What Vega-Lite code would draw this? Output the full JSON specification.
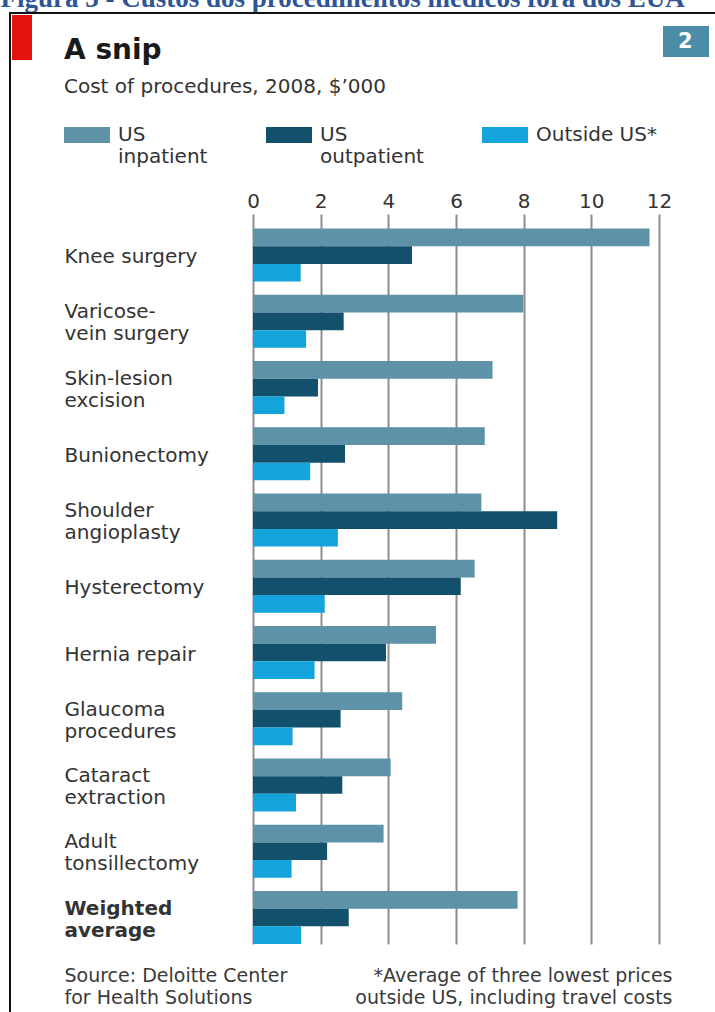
{
  "$schema": "https://vega.github.io/schema/vega-lite/v6.json",
  "autosize": {"type": "none"},
  "width": 406,
  "height": 730,
  "padding": {"left": 253, "top": 214, "right": 56, "bottom": 68},
  "background": "white",
  "title": {
    "text": "A snip",
    "subtitle": "Cost of procedures, 2008, $’000",
    "anchor": "start",
    "frame": "group",
    "dx": -189,
    "dy": 113,
    "offset": 0,
    "font": "DejaVu Sans",
    "fontSize": 28,
    "fontWeight": "bold",
    "color": "#1a1a1a",
    "subtitleFont": "DejaVu Sans",
    "subtitleFontSize": 20,
    "subtitleColor": "#333333",
    "subtitlePadding": 12
  },
  "data": {
    "values": [
      {"category": "Knee surgery", "series": "US inpatient", "value": 11.72},
      {"category": "Knee surgery", "series": "US outpatient", "value": 4.70},
      {"category": "Knee surgery", "series": "Outside US*", "value": 1.41},
      {"category": "Varicose-vein surgery", "series": "US inpatient", "value": 7.99},
      {"category": "Varicose-vein surgery", "series": "US outpatient", "value": 2.68},
      {"category": "Varicose-vein surgery", "series": "Outside US*", "value": 1.57},
      {"category": "Skin-lesion excision", "series": "US inpatient", "value": 7.08},
      {"category": "Skin-lesion excision", "series": "US outpatient", "value": 1.92},
      {"category": "Skin-lesion excision", "series": "Outside US*", "value": 0.93},
      {"category": "Bunionectomy", "series": "US inpatient", "value": 6.85},
      {"category": "Bunionectomy", "series": "US outpatient", "value": 2.72},
      {"category": "Bunionectomy", "series": "Outside US*", "value": 1.69},
      {"category": "Shoulder angioplasty", "series": "US inpatient", "value": 6.75},
      {"category": "Shoulder angioplasty", "series": "US outpatient", "value": 8.99},
      {"category": "Shoulder angioplasty", "series": "Outside US*", "value": 2.51},
      {"category": "Hysterectomy", "series": "US inpatient", "value": 6.55},
      {"category": "Hysterectomy", "series": "US outpatient", "value": 6.14},
      {"category": "Hysterectomy", "series": "Outside US*", "value": 2.12},
      {"category": "Hernia repair", "series": "US inpatient", "value": 5.41},
      {"category": "Hernia repair", "series": "US outpatient", "value": 3.93},
      {"category": "Hernia repair", "series": "Outside US*", "value": 1.82},
      {"category": "Glaucoma procedures", "series": "US inpatient", "value": 4.41},
      {"category": "Glaucoma procedures", "series": "US outpatient", "value": 2.59},
      {"category": "Glaucoma procedures", "series": "Outside US*", "value": 1.17},
      {"category": "Cataract extraction", "series": "US inpatient", "value": 4.07},
      {"category": "Cataract extraction", "series": "US outpatient", "value": 2.64},
      {"category": "Cataract extraction", "series": "Outside US*", "value": 1.27},
      {"category": "Adult tonsillectomy", "series": "US inpatient", "value": 3.86},
      {"category": "Adult tonsillectomy", "series": "US outpatient", "value": 2.19},
      {"category": "Adult tonsillectomy", "series": "Outside US*", "value": 1.14},
      {"category": "Weighted average", "series": "US inpatient", "value": 7.82},
      {"category": "Weighted average", "series": "US outpatient", "value": 2.83},
      {"category": "Weighted average", "series": "Outside US*", "value": 1.42}
    ]
  },
  "layer": [
    {
      "transform": [{"filter": "datum.series != 'Outside US*'"}],
      "mark": {"type": "bar"},
      "encoding": {
        "y": {
          "field": "category",
          "type": "nominal",
          "scale": {
            "domain": ["Knee surgery", "Varicose-vein surgery", "Skin-lesion excision", "Bunionectomy", "Shoulder angioplasty", "Hysterectomy", "Hernia repair", "Glaucoma procedures", "Cataract extraction", "Adult tonsillectomy", "Weighted average"],
            "paddingInner": 0.2,
            "paddingOuter": 0.11,
            "align": 1
          },
          "axis": {
            "orient": "left",
            "title": null,
            "domain": false,
            "ticks": false,
            "tickSize": 0,
            "grid": false,
            "labelAlign": "left",
            "labelBaseline": "middle",
            "labelPadding": 189,
            "labelLimit": 400,
            "labelOverlap": false,
            "labelBound": false,
            "labelFont": "DejaVu Sans",
            "labelFontSize": 20,
            "labelLineHeight": 22,
            "labelColor": "#333333",
            "labelOffset": {"condition": {"test": "datum.value == 'Knee surgery' || datum.value == 'Bunionectomy' || datum.value == 'Hysterectomy' || datum.value == 'Hernia repair'", "value": 2}, "value": -9},
            "labelFontWeight": {"condition": {"test": "datum.value == 'Weighted average'", "value": "bold"}, "value": "normal"},
            "labelExpr": "datum.value == 'Varicose-vein surgery' ? ['Varicose-', 'vein surgery'] : datum.value == 'Skin-lesion excision' ? ['Skin-lesion', 'excision'] : datum.value == 'Shoulder angioplasty' ? ['Shoulder', 'angioplasty'] : datum.value == 'Glaucoma procedures' ? ['Glaucoma', 'procedures'] : datum.value == 'Cataract extraction' ? ['Cataract', 'extraction'] : datum.value == 'Adult tonsillectomy' ? ['Adult', 'tonsillectomy'] : datum.value == 'Weighted average' ? ['Weighted', 'average'] : datum.label"
          }
        },
        "yOffset": {
          "field": "series",
          "type": "nominal",
          "scale": {"domain": ["US inpatient", "US outpatient", "Outside US*"], "paddingInner": 0, "paddingOuter": 0}
        },
        "x": {
          "field": "value",
          "type": "quantitative",
          "scale": {"domain": [0, 12], "nice": false, "zero": true},
          "axis": {
            "orient": "top",
            "values": [0, 2, 4, 6, 8, 10, 12],
            "domain": false,
            "ticks": false,
            "tickSize": 0,
            "grid": true,
            "gridColor": "#8d8d8d",
            "gridWidth": 2,
            "labelFont": "DejaVu Sans",
            "labelFontSize": 20,
            "labelColor": "#333333",
            "labelPadding": 3,
            "labelFlush": false,
            "labelOverlap": false,
            "title": "Figura 3 - Custos dos procedimentos médicos fora dos EUA",
            "titleX": -253,
            "titleY": -208,
            "titleAlign": "left",
            "titleBaseline": "alphabetic",
            "titleAngle": 0,
            "titleFont": "Liberation Serif",
            "titleFontSize": 27,
            "titleFontWeight": "bold",
            "titleColor": "#2F5597",
            "titleLimit": 2000
          }
        },
        "color": {
          "field": "series",
          "type": "nominal",
          "scale": {"domain": ["US inpatient", "US outpatient", "Outside US*"], "range": ["#5E92A9", "#12506B", "#14A3DB"]},
          "legend": {
            "orient": "none",
            "legendX": -189,
            "legendY": -112,
            "title": null,
            "direction": "horizontal",
            "columns": 3,
            "columnPadding": 58,
            "padding": 0,
            "symbolType": "M-1,0.087H1V0.783H-1Z",
            "symbolSize": 2116,
            "symbolStrokeWidth": 0,
            "labelFont": "DejaVu Sans",
            "labelFontSize": 20,
            "labelColor": "#333333",
            "labelOffset": 8,
            "labelBaseline": "top",
            "labelLineHeight": 21,
            "labelLimit": 300,
            "labelExpr": "datum.label == 'US inpatient' ? ['US', 'inpatient'] : datum.label == 'US outpatient' ? ['US', 'outpatient'] : [datum.label, ' ']"
          }
        },
        "opacity": {
          "field": "value",
          "type": "quantitative",
          "scale": {"domain": [0, 12], "range": [1, 1]},
          "legend": {
            "orient": "none",
            "legendX": 410,
            "legendY": -195.5,
            "title": null,
            "values": [5],
            "padding": 0,
            "symbolType": "M-1,-0.674H1V0.674H-1Z",
            "symbolSize": 2116,
            "symbolFillColor": "#4B8DA7",
            "symbolStrokeColor": "#4B8DA7",
            "symbolStrokeWidth": 0,
            "labelExpr": "'2'",
            "labelColor": "#ffffff",
            "labelFont": "DejaVu Sans",
            "labelFontWeight": "bold",
            "labelFontSize": 21,
            "labelOffset": -31,
            "labelBaseline": "middle"
          }
        },
        "strokeWidth": {
          "field": "value",
          "type": "quantitative",
          "scale": {"domain": [0, 13], "range": [0, 0]},
          "legend": {
            "orient": "none",
            "legendX": -253.5,
            "legendY": -199,
            "title": null,
            "values": [5],
            "padding": 0,
            "symbolType": "M-0.444,-1H0.444V1H-0.444Z",
            "symbolSize": 2025,
            "symbolFillColor": "#E3120B",
            "symbolStrokeColor": "#E3120B",
            "labelExpr": "''"
          }
        },
        "strokeDash": {
          "field": "category",
          "type": "nominal",
          "scale": {"range": [[1, 0]]},
          "legend": {
            "orient": "none",
            "legendX": -243,
            "legendY": -201,
            "title": null,
            "values": ["Knee surgery"],
            "padding": 1500,
            "strokeColor": "#111111",
            "symbolSize": 0,
            "symbolStrokeWidth": 0,
            "labelExpr": "''"
          }
        }
      }
    },
    {
      "transform": [{"filter": "datum.series == 'Outside US*'"}],
      "mark": {"type": "bar"},
      "encoding": {
        "y": {
          "field": "category",
          "type": "nominal",
          "axis": {
            "orient": "right",
            "labels": false,
            "domain": false,
            "ticks": false,
            "grid": false,
            "title": ["*Average of three lowest prices", "outside US, including travel costs"],
            "titleX": 13,
            "titleY": 767,
            "titleAngle": 0,
            "titleAlign": "right",
            "titleBaseline": "alphabetic",
            "titleFont": "DejaVu Sans",
            "titleFontSize": 19,
            "titleFontWeight": "normal",
            "titleColor": "#3a3a3a",
            "titleLineHeight": 22,
            "titleLimit": 2000
          }
        },
        "yOffset": {"field": "series", "type": "nominal"},
        "x": {
          "field": "value",
          "type": "quantitative",
          "axis": {
            "orient": "bottom",
            "labels": false,
            "domain": false,
            "ticks": false,
            "grid": false,
            "title": ["Source: Deloitte Center", "for Health Solutions"],
            "titleX": -189,
            "titleY": 37,
            "titleAngle": 0,
            "titleAlign": "left",
            "titleBaseline": "alphabetic",
            "titleFont": "DejaVu Sans",
            "titleFontSize": 19,
            "titleFontWeight": "normal",
            "titleColor": "#3a3a3a",
            "titleLineHeight": 22,
            "titleLimit": 2000
          }
        },
        "color": {"field": "series", "type": "nominal"}
      }
    }
  ],
  "resolve": {"axis": {"x": "independent", "y": "independent"}},
  "config": {"view": {"stroke": null}, "legend": {"strokeWidth": 2}}
}
